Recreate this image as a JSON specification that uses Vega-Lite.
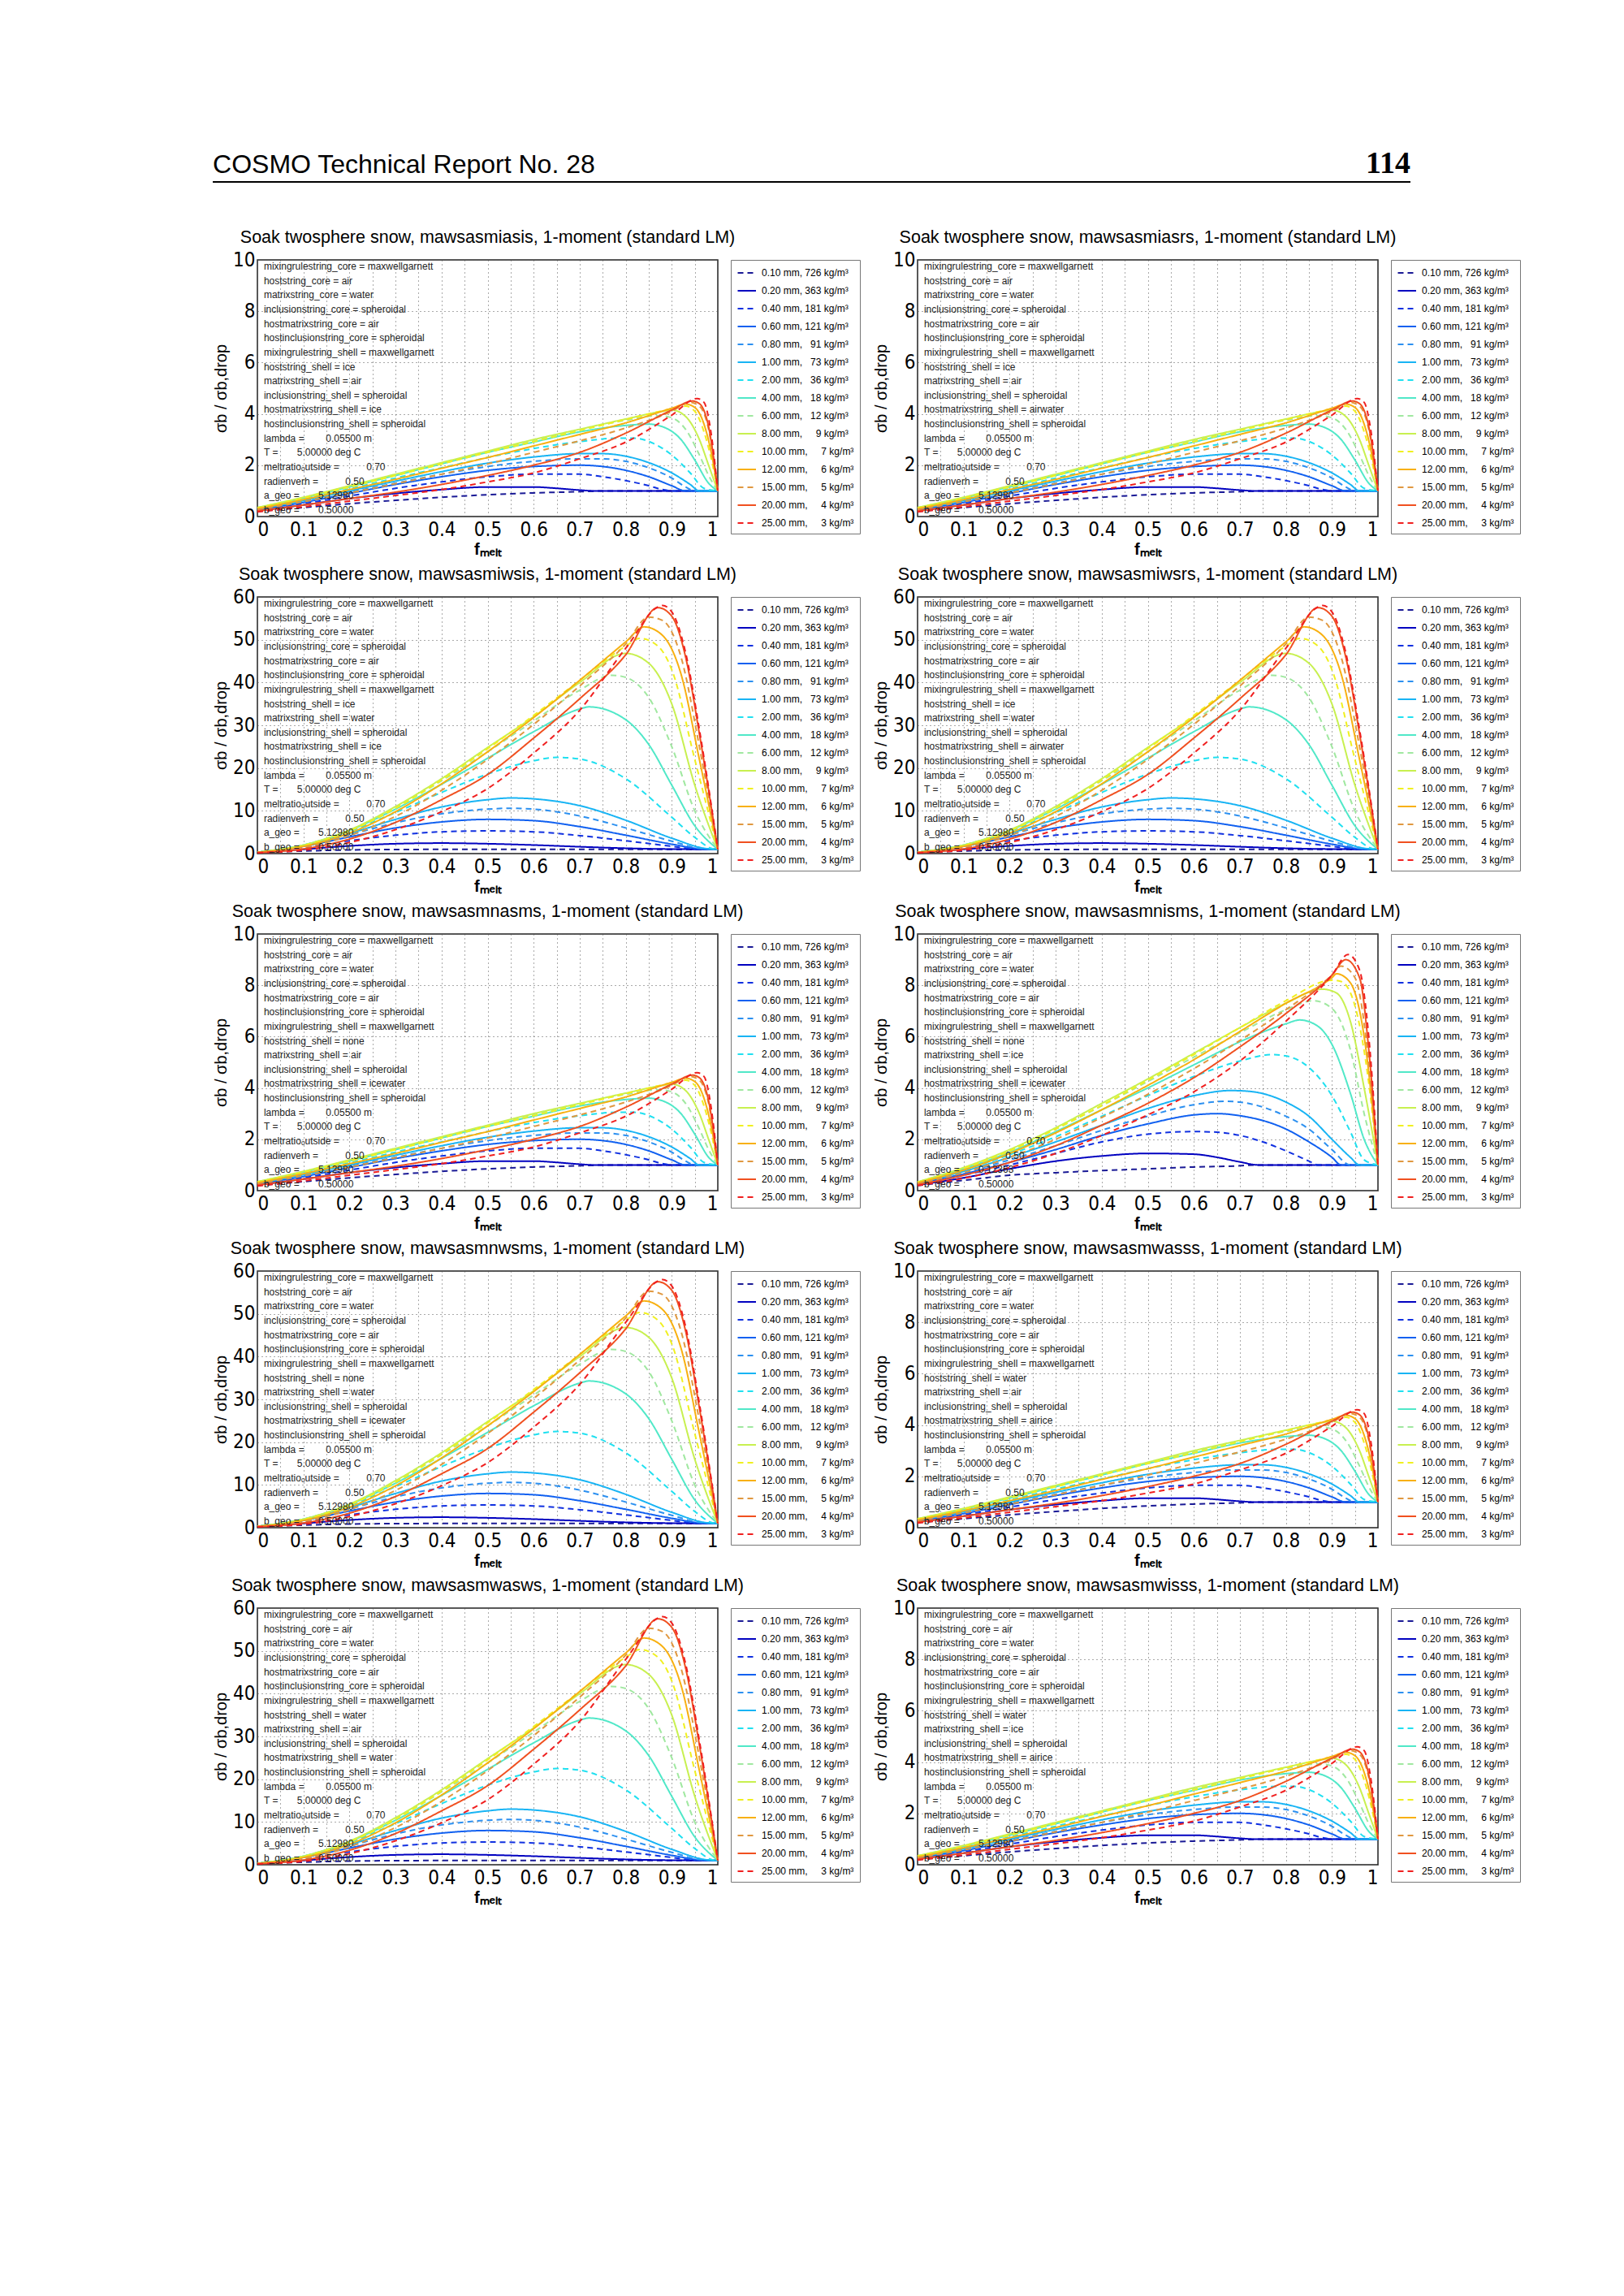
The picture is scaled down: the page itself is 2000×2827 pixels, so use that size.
{
  "$schema": "https://vega.github.io/schema/vega-lite/v6.json",
  "background": "white",
  "padding": {"left": 261, "top": 174, "right": 0, "bottom": 0},
  "autosize": {"type": "pad"},
  "config": {
    "font": "Liberation Sans",
    "view": {"stroke": "#222", "strokeWidth": 1.5},
    "title": {"fontSize": 21.5, "fontWeight": "normal", "font": "Liberation Sans", "color": "#000", "offset": 5, "anchor": "middle", "frame": "group"},
    "axis": {
      "grid": true, "gridDash": [1, 4], "gridColor": "#555", "gridOpacity": 1, "gridWidth": 1,
      "domain": false, "ticks": false,
      "labelFont": "Liberation Sans Narrow, DejaVu Sans Condensed, Liberation Sans",
      "labelFontSize": 24, "labelColor": "#000",
      "titleFont": "Liberation Sans", "titleFontSize": 20, "titleFontWeight": "normal", "titleColor": "#000"
    },
    "axisX": {"values": [0, 0.1, 0.2, 0.3, 0.4, 0.5, 0.6, 0.7, 0.8, 0.9, 1], "format": "~g", "labelPadding": 4, "titlePadding": 2, "titleFontWeight": "bold"},
    "axisY": {"labelPadding": 3, "titlePadding": 4},
    "line": {"interpolate": "monotone"},
    "legend": {
      "orient": "right", "offset": 12, "strokeColor": "#777", "fillColor": "white", "padding": 7,
      "symbolType": "M-1,0H2", "symbolSize": 225, "symbolStrokeWidth": 2.2,
      "labelFont": "Liberation Sans", "labelFontSize": 12, "labelColor": "#000", "labelOffset": 13, "rowPadding": 7
    },
    "range": {"category": ["#1a1a96", "#0000c0", "#1030e0", "#1060f0", "#2c90f0", "#18b4f4", "#20e0f0", "#50e8c8", "#a0e8a0", "#c8f050", "#f0f020", "#f8b010", "#e09840", "#f05020", "#f02020"]}
  },
  "datasets": {
    "series": [
      {"k": 0, "s": "0.10 mm, 726 kg/m³"}, {"k": 1, "s": "0.20 mm, 363 kg/m³"}, {"k": 2, "s": "0.40 mm, 181 kg/m³"},
      {"k": 3, "s": "0.60 mm, 121 kg/m³"}, {"k": 4, "s": "0.80 mm,\u00a0\u00a0 91 kg/m³"}, {"k": 5, "s": "1.00 mm,\u00a0\u00a0 73 kg/m³"},
      {"k": 6, "s": "2.00 mm,\u00a0\u00a0 36 kg/m³"}, {"k": 7, "s": "4.00 mm,\u00a0\u00a0 18 kg/m³"}, {"k": 8, "s": "6.00 mm,\u00a0\u00a0 12 kg/m³"},
      {"k": 9, "s": "8.00 mm,\u00a0\u00a0\u00a0\u00a0 9 kg/m³"}, {"k": 10, "s": "10.00 mm,\u00a0\u00a0\u00a0\u00a0 7 kg/m³"}, {"k": 11, "s": "12.00 mm,\u00a0\u00a0\u00a0\u00a0 6 kg/m³"},
      {"k": 12, "s": "15.00 mm,\u00a0\u00a0\u00a0\u00a0 5 kg/m³"}, {"k": 13, "s": "20.00 mm,\u00a0\u00a0\u00a0\u00a0 4 kg/m³"}, {"k": 14, "s": "25.00 mm,\u00a0\u00a0\u00a0\u00a0 3 kg/m³"}
    ],
    "shapeA": [
      {"k":0,"x":0,"y":0.2},{"k":0,"x":0.1,"y":0.35},{"k":0,"x":0.2,"y":0.5},{"k":0,"x":0.3,"y":0.63},{"k":0,"x":0.4,"y":0.75},{"k":0,"x":0.5,"y":0.85},{"k":0,"x":0.6,"y":0.92},{"k":0,"x":0.7,"y":0.97},{"k":0,"x":0.75,"y":1},{"k":0,"x":1,"y":1},
      {"k":1,"x":0,"y":0.22},{"k":1,"x":0.1,"y":0.45},{"k":1,"x":0.2,"y":0.7},{"k":1,"x":0.3,"y":0.9},{"k":1,"x":0.4,"y":1.05},{"k":1,"x":0.5,"y":1.15},{"k":1,"x":0.6,"y":1.15},{"k":1,"x":0.65,"y":1.1},{"k":1,"x":0.7,"y":1.03},{"k":1,"x":0.73,"y":1},{"k":1,"x":1,"y":1},
      {"k":2,"x":0,"y":0.24},{"k":2,"x":0.1,"y":0.5},{"k":2,"x":0.2,"y":0.8},{"k":2,"x":0.3,"y":1.1},{"k":2,"x":0.4,"y":1.35},{"k":2,"x":0.5,"y":1.55},{"k":2,"x":0.6,"y":1.65},{"k":2,"x":0.7,"y":1.65},{"k":2,"x":0.75,"y":1.55},{"k":2,"x":0.8,"y":1.4},{"k":2,"x":0.85,"y":1.2},{"k":2,"x":0.88,"y":1.05},{"k":2,"x":0.9,"y":1},{"k":2,"x":1,"y":1},
      {"k":3,"x":0,"y":0.26},{"k":3,"x":0.1,"y":0.55},{"k":3,"x":0.2,"y":0.9},{"k":3,"x":0.3,"y":1.25},{"k":3,"x":0.4,"y":1.55},{"k":3,"x":0.5,"y":1.8},{"k":3,"x":0.6,"y":1.95},{"k":3,"x":0.7,"y":2.0},{"k":3,"x":0.75,"y":1.95},{"k":3,"x":0.8,"y":1.8},{"k":3,"x":0.85,"y":1.55},{"k":3,"x":0.9,"y":1.2},{"k":3,"x":0.93,"y":1},{"k":3,"x":1,"y":1},
      {"k":4,"x":0,"y":0.27},{"k":4,"x":0.1,"y":0.6},{"k":4,"x":0.2,"y":0.95},{"k":4,"x":0.3,"y":1.3},{"k":4,"x":0.4,"y":1.65},{"k":4,"x":0.5,"y":1.95},{"k":4,"x":0.6,"y":2.15},{"k":4,"x":0.7,"y":2.25},{"k":4,"x":0.75,"y":2.25},{"k":4,"x":0.8,"y":2.15},{"k":4,"x":0.85,"y":1.9},{"k":4,"x":0.9,"y":1.5},{"k":4,"x":0.93,"y":1.15},{"k":4,"x":0.95,"y":1},{"k":4,"x":1,"y":1},
      {"k":5,"x":0,"y":0.28},{"k":5,"x":0.1,"y":0.62},{"k":5,"x":0.2,"y":1.0},{"k":5,"x":0.3,"y":1.38},{"k":5,"x":0.4,"y":1.75},{"k":5,"x":0.5,"y":2.08},{"k":5,"x":0.6,"y":2.32},{"k":5,"x":0.7,"y":2.45},{"k":5,"x":0.75,"y":2.45},{"k":5,"x":0.8,"y":2.35},{"k":5,"x":0.85,"y":2.1},{"k":5,"x":0.9,"y":1.7},{"k":5,"x":0.94,"y":1.25},{"k":5,"x":0.96,"y":1},{"k":5,"x":1,"y":1},
      {"k":6,"x":0,"y":0.3},{"k":6,"x":0.1,"y":0.68},{"k":6,"x":0.2,"y":1.08},{"k":6,"x":0.3,"y":1.5},{"k":6,"x":0.4,"y":1.9},{"k":6,"x":0.5,"y":2.3},{"k":6,"x":0.6,"y":2.65},{"k":6,"x":0.7,"y":2.92},{"k":6,"x":0.78,"y":3.05},{"k":6,"x":0.82,"y":3.05},{"k":6,"x":0.86,"y":2.85},{"k":6,"x":0.9,"y":2.4},{"k":6,"x":0.94,"y":1.7},{"k":6,"x":0.97,"y":1.1},{"k":6,"x":1,"y":1},
      {"k":7,"x":0,"y":0.32},{"k":7,"x":0.1,"y":0.72},{"k":7,"x":0.2,"y":1.15},{"k":7,"x":0.3,"y":1.6},{"k":7,"x":0.4,"y":2.05},{"k":7,"x":0.5,"y":2.5},{"k":7,"x":0.6,"y":2.9},{"k":7,"x":0.7,"y":3.3},{"k":7,"x":0.8,"y":3.55},{"k":7,"x":0.85,"y":3.6},{"k":7,"x":0.88,"y":3.5},{"k":7,"x":0.92,"y":3.0},{"k":7,"x":0.95,"y":2.2},{"k":7,"x":0.98,"y":1.3},{"k":7,"x":1,"y":1},
      {"k":8,"x":0,"y":0.34},{"k":8,"x":0.1,"y":0.74},{"k":8,"x":0.2,"y":1.18},{"k":8,"x":0.3,"y":1.62},{"k":8,"x":0.4,"y":2.08},{"k":8,"x":0.5,"y":2.53},{"k":8,"x":0.6,"y":2.95},{"k":8,"x":0.7,"y":3.38},{"k":8,"x":0.8,"y":3.75},{"k":8,"x":0.87,"y":3.93},{"k":8,"x":0.9,"y":3.85},{"k":8,"x":0.93,"y":3.4},{"k":8,"x":0.96,"y":2.4},{"k":8,"x":0.98,"y":1.6},{"k":8,"x":1,"y":1},
      {"k":9,"x":0,"y":0.35},{"k":9,"x":0.1,"y":0.75},{"k":9,"x":0.2,"y":1.2},{"k":9,"x":0.3,"y":1.65},{"k":9,"x":0.4,"y":2.1},{"k":9,"x":0.5,"y":2.55},{"k":9,"x":0.6,"y":3.0},{"k":9,"x":0.7,"y":3.4},{"k":9,"x":0.8,"y":3.8},{"k":9,"x":0.88,"y":4.1},{"k":9,"x":0.9,"y":4.15},{"k":9,"x":0.93,"y":3.9},{"k":9,"x":0.96,"y":3.0},{"k":9,"x":0.98,"y":2.0},{"k":9,"x":1,"y":1},
      {"k":10,"x":0,"y":0.33},{"k":10,"x":0.1,"y":0.72},{"k":10,"x":0.2,"y":1.15},{"k":10,"x":0.3,"y":1.6},{"k":10,"x":0.4,"y":2.05},{"k":10,"x":0.5,"y":2.5},{"k":10,"x":0.6,"y":2.92},{"k":10,"x":0.7,"y":3.35},{"k":10,"x":0.8,"y":3.78},{"k":10,"x":0.9,"y":4.2},{"k":10,"x":0.93,"y":4.3},{"k":10,"x":0.95,"y":4.1},{"k":10,"x":0.97,"y":3.3},{"k":10,"x":0.99,"y":1.9},{"k":10,"x":1,"y":1},
      {"k":11,"x":0,"y":0.3},{"k":11,"x":0.1,"y":0.66},{"k":11,"x":0.2,"y":1.05},{"k":11,"x":0.3,"y":1.45},{"k":11,"x":0.4,"y":1.88},{"k":11,"x":0.5,"y":2.3},{"k":11,"x":0.6,"y":2.75},{"k":11,"x":0.7,"y":3.2},{"k":11,"x":0.8,"y":3.65},{"k":11,"x":0.9,"y":4.22},{"k":11,"x":0.93,"y":4.38},{"k":11,"x":0.95,"y":4.25},{"k":11,"x":0.97,"y":3.6},{"k":11,"x":0.99,"y":2.1},{"k":11,"x":1,"y":1},
      {"k":12,"x":0,"y":0.27},{"k":12,"x":0.1,"y":0.58},{"k":12,"x":0.2,"y":0.92},{"k":12,"x":0.3,"y":1.28},{"k":12,"x":0.4,"y":1.65},{"k":12,"x":0.5,"y":2.05},{"k":12,"x":0.6,"y":2.5},{"k":12,"x":0.7,"y":2.95},{"k":12,"x":0.8,"y":3.45},{"k":12,"x":0.9,"y":4.1},{"k":12,"x":0.94,"y":4.45},{"k":12,"x":0.96,"y":4.3},{"k":12,"x":0.98,"y":3.4},{"k":12,"x":1,"y":1},
      {"k":13,"x":0,"y":0.22},{"k":13,"x":0.1,"y":0.45},{"k":13,"x":0.2,"y":0.7},{"k":13,"x":0.3,"y":0.95},{"k":13,"x":0.4,"y":1.25},{"k":13,"x":0.5,"y":1.6},{"k":13,"x":0.6,"y":2.0},{"k":13,"x":0.7,"y":2.5},{"k":13,"x":0.8,"y":3.25},{"k":13,"x":0.9,"y":4.15},{"k":13,"x":0.945,"y":4.5},{"k":13,"x":0.96,"y":4.4},{"k":13,"x":0.98,"y":3.5},{"k":13,"x":1,"y":1},
      {"k":14,"x":0,"y":0.18},{"k":14,"x":0.1,"y":0.38},{"k":14,"x":0.2,"y":0.6},{"k":14,"x":0.3,"y":0.82},{"k":14,"x":0.4,"y":1.05},{"k":14,"x":0.5,"y":1.35},{"k":14,"x":0.6,"y":1.7},{"k":14,"x":0.7,"y":2.25},{"k":14,"x":0.8,"y":2.9},{"k":14,"x":0.9,"y":3.95},{"k":14,"x":0.955,"y":4.6},{"k":14,"x":0.97,"y":4.45},{"k":14,"x":0.985,"y":3.3},{"k":14,"x":1,"y":1}
    ],
    "shapeB": [
      {"k":0,"x":0,"y":0.2},{"k":0,"x":0.1,"y":0.6},{"k":0,"x":0.2,"y":0.85},{"k":0,"x":0.3,"y":0.95},{"k":0,"x":0.5,"y":1},{"k":0,"x":1,"y":1},
      {"k":1,"x":0,"y":0.25},{"k":1,"x":0.1,"y":1.0},{"k":1,"x":0.2,"y":1.8},{"k":1,"x":0.3,"y":2.3},{"k":1,"x":0.4,"y":2.45},{"k":1,"x":0.5,"y":2.3},{"k":1,"x":0.6,"y":2.0},{"k":1,"x":0.7,"y":1.6},{"k":1,"x":0.8,"y":1.25},{"k":1,"x":0.9,"y":1.05},{"k":1,"x":1,"y":1},
      {"k":2,"x":0,"y":0.3},{"k":2,"x":0.1,"y":1.4},{"k":2,"x":0.2,"y":3.0},{"k":2,"x":0.3,"y":4.3},{"k":2,"x":0.4,"y":5.1},{"k":2,"x":0.5,"y":5.3},{"k":2,"x":0.6,"y":5.1},{"k":2,"x":0.7,"y":4.2},{"k":2,"x":0.8,"y":3.0},{"k":2,"x":0.9,"y":1.7},{"k":2,"x":0.95,"y":1.1},{"k":2,"x":1,"y":1},
      {"k":3,"x":0,"y":0.3},{"k":3,"x":0.1,"y":1.7},{"k":3,"x":0.2,"y":3.9},{"k":3,"x":0.3,"y":6.0},{"k":3,"x":0.4,"y":7.4},{"k":3,"x":0.5,"y":8.0},{"k":3,"x":0.6,"y":7.7},{"k":3,"x":0.7,"y":6.3},{"k":3,"x":0.8,"y":4.3},{"k":3,"x":0.9,"y":2.2},{"k":3,"x":0.97,"y":1.05},{"k":3,"x":1,"y":1},
      {"k":4,"x":0,"y":0.3},{"k":4,"x":0.1,"y":1.8},{"k":4,"x":0.2,"y":4.4},{"k":4,"x":0.3,"y":7.2},{"k":4,"x":0.4,"y":9.3},{"k":4,"x":0.5,"y":10.4},{"k":4,"x":0.55,"y":10.6},{"k":4,"x":0.6,"y":10.4},{"k":4,"x":0.7,"y":8.8},{"k":4,"x":0.8,"y":6.0},{"k":4,"x":0.9,"y":2.9},{"k":4,"x":0.97,"y":1.1},{"k":4,"x":1,"y":1},
      {"k":5,"x":0,"y":0.3},{"k":5,"x":0.1,"y":1.9},{"k":5,"x":0.2,"y":4.7},{"k":5,"x":0.3,"y":8.0},{"k":5,"x":0.4,"y":10.9},{"k":5,"x":0.5,"y":12.6},{"k":5,"x":0.55,"y":13.0},{"k":5,"x":0.6,"y":12.8},{"k":5,"x":0.7,"y":11.2},{"k":5,"x":0.8,"y":7.8},{"k":5,"x":0.9,"y":3.6},{"k":5,"x":0.98,"y":1.1},{"k":5,"x":1,"y":1},
      {"k":6,"x":0,"y":0.3},{"k":6,"x":0.1,"y":2.0},{"k":6,"x":0.2,"y":5.2},{"k":6,"x":0.3,"y":9.6},{"k":6,"x":0.4,"y":14.3},{"k":6,"x":0.5,"y":18.6},{"k":6,"x":0.6,"y":21.7},{"k":6,"x":0.65,"y":22.5},{"k":6,"x":0.7,"y":22.1},{"k":6,"x":0.8,"y":17.5},{"k":6,"x":0.9,"y":8.5},{"k":6,"x":0.95,"y":3.8},{"k":6,"x":0.99,"y":1.1},{"k":6,"x":1,"y":1},
      {"k":7,"x":0,"y":0.3},{"k":7,"x":0.1,"y":2.0},{"k":7,"x":0.2,"y":5.4},{"k":7,"x":0.3,"y":10.4},{"k":7,"x":0.4,"y":16.2},{"k":7,"x":0.5,"y":22.3},{"k":7,"x":0.6,"y":28.5},{"k":7,"x":0.7,"y":33.8},{"k":7,"x":0.72,"y":34.3},{"k":7,"x":0.8,"y":31.3},{"k":7,"x":0.85,"y":25.5},{"k":7,"x":0.9,"y":16},{"k":7,"x":0.95,"y":6.5},{"k":7,"x":1,"y":1},
      {"k":8,"x":0,"y":0.3},{"k":8,"x":0.1,"y":2.0},{"k":8,"x":0.2,"y":5.5},{"k":8,"x":0.3,"y":10.8},{"k":8,"x":0.4,"y":17},{"k":8,"x":0.5,"y":23.8},{"k":8,"x":0.6,"y":31},{"k":8,"x":0.7,"y":38.2},{"k":8,"x":0.77,"y":41.7},{"k":8,"x":0.8,"y":41.2},{"k":8,"x":0.85,"y":36.5},{"k":8,"x":0.9,"y":25},{"k":8,"x":0.95,"y":10},{"k":8,"x":1,"y":1},
      {"k":9,"x":0,"y":0.3},{"k":9,"x":0.1,"y":2.0},{"k":9,"x":0.2,"y":5.5},{"k":9,"x":0.3,"y":11},{"k":9,"x":0.4,"y":17.5},{"k":9,"x":0.5,"y":24.8},{"k":9,"x":0.6,"y":32},{"k":9,"x":0.7,"y":40},{"k":9,"x":0.8,"y":46.8},{"k":9,"x":0.85,"y":44.5},{"k":9,"x":0.9,"y":35},{"k":9,"x":0.95,"y":16},{"k":9,"x":1,"y":1},
      {"k":10,"x":0,"y":0.3},{"k":10,"x":0.1,"y":1.9},{"k":10,"x":0.2,"y":5.3},{"k":10,"x":0.3,"y":10.6},{"k":10,"x":0.4,"y":17.2},{"k":10,"x":0.5,"y":24.5},{"k":10,"x":0.6,"y":32.3},{"k":10,"x":0.7,"y":40.5},{"k":10,"x":0.8,"y":48.5},{"k":10,"x":0.83,"y":50.3},{"k":10,"x":0.87,"y":48.5},{"k":10,"x":0.9,"y":43},{"k":10,"x":0.95,"y":22},{"k":10,"x":1,"y":1},
      {"k":11,"x":0,"y":0.28},{"k":11,"x":0.1,"y":1.7},{"k":11,"x":0.2,"y":4.8},{"k":11,"x":0.3,"y":9.8},{"k":11,"x":0.4,"y":16.3},{"k":11,"x":0.5,"y":23.8},{"k":11,"x":0.6,"y":31.8},{"k":11,"x":0.7,"y":40.5},{"k":11,"x":0.8,"y":49.5},{"k":11,"x":0.84,"y":53},{"k":11,"x":0.88,"y":51},{"k":11,"x":0.92,"y":42},{"k":11,"x":0.96,"y":22},{"k":11,"x":1,"y":1},
      {"k":12,"x":0,"y":0.25},{"k":12,"x":0.1,"y":1.4},{"k":12,"x":0.2,"y":4.2},{"k":12,"x":0.3,"y":8.7},{"k":12,"x":0.4,"y":14.8},{"k":12,"x":0.5,"y":22},{"k":12,"x":0.6,"y":30.2},{"k":12,"x":0.7,"y":39.2},{"k":12,"x":0.8,"y":49},{"k":12,"x":0.85,"y":55.3},{"k":12,"x":0.88,"y":54.5},{"k":12,"x":0.92,"y":46},{"k":12,"x":0.96,"y":25},{"k":12,"x":1,"y":1},
      {"k":13,"x":0,"y":0.22},{"k":13,"x":0.1,"y":1.1},{"k":13,"x":0.2,"y":3.4},{"k":13,"x":0.3,"y":7.3},{"k":13,"x":0.4,"y":12.6},{"k":13,"x":0.5,"y":18.5},{"k":13,"x":0.6,"y":27},{"k":13,"x":0.7,"y":36.2},{"k":13,"x":0.8,"y":46.5},{"k":13,"x":0.87,"y":57.5},{"k":13,"x":0.9,"y":55.5},{"k":13,"x":0.93,"y":46},{"k":13,"x":0.96,"y":28},{"k":13,"x":1,"y":1},
      {"k":14,"x":0,"y":0.2},{"k":14,"x":0.1,"y":0.8},{"k":14,"x":0.2,"y":2.6},{"k":14,"x":0.3,"y":5.6},{"k":14,"x":0.4,"y":9.8},{"k":14,"x":0.5,"y":15.2},{"k":14,"x":0.6,"y":23.5},{"k":14,"x":0.7,"y":33.5},{"k":14,"x":0.8,"y":48},{"k":14,"x":0.88,"y":58},{"k":14,"x":0.9,"y":56.5},{"k":14,"x":0.93,"y":47},{"k":14,"x":0.96,"y":29},{"k":14,"x":1,"y":1}
    ],
    "shapeC": [
      {"k":0,"x":0,"y":0.2},{"k":0,"x":0.1,"y":0.4},{"k":0,"x":0.2,"y":0.6},{"k":0,"x":0.3,"y":0.7},{"k":0,"x":0.4,"y":0.78},{"k":0,"x":0.5,"y":0.85},{"k":0,"x":0.6,"y":0.92},{"k":0,"x":0.7,"y":0.97},{"k":0,"x":0.73,"y":1},{"k":0,"x":1,"y":1},
      {"k":1,"x":0,"y":0.22},{"k":1,"x":0.1,"y":0.5},{"k":1,"x":0.2,"y":0.85},{"k":1,"x":0.3,"y":1.15},{"k":1,"x":0.4,"y":1.35},{"k":1,"x":0.5,"y":1.45},{"k":1,"x":0.6,"y":1.42},{"k":1,"x":0.65,"y":1.3},{"k":1,"x":0.7,"y":1.12},{"k":1,"x":0.74,"y":1},{"k":1,"x":1,"y":1},
      {"k":2,"x":0,"y":0.25},{"k":2,"x":0.1,"y":0.6},{"k":2,"x":0.2,"y":1.0},{"k":2,"x":0.3,"y":1.45},{"k":2,"x":0.4,"y":1.9},{"k":2,"x":0.5,"y":2.2},{"k":2,"x":0.6,"y":2.3},{"k":2,"x":0.65,"y":2.28},{"k":2,"x":0.7,"y":2.15},{"k":2,"x":0.75,"y":1.9},{"k":2,"x":0.8,"y":1.55},{"k":2,"x":0.85,"y":1.15},{"k":2,"x":0.87,"y":1},{"k":2,"x":1,"y":1},
      {"k":3,"x":0,"y":0.27},{"k":3,"x":0.1,"y":0.65},{"k":3,"x":0.2,"y":1.1},{"k":3,"x":0.3,"y":1.6},{"k":3,"x":0.4,"y":2.15},{"k":3,"x":0.5,"y":2.6},{"k":3,"x":0.6,"y":2.95},{"k":3,"x":0.65,"y":3.0},{"k":3,"x":0.7,"y":2.92},{"k":3,"x":0.8,"y":2.4},{"k":3,"x":0.85,"y":1.9},{"k":3,"x":0.9,"y":1.3},{"k":3,"x":0.92,"y":1},{"k":3,"x":1,"y":1},
      {"k":4,"x":0,"y":0.28},{"k":4,"x":0.1,"y":0.7},{"k":4,"x":0.2,"y":1.2},{"k":4,"x":0.3,"y":1.75},{"k":4,"x":0.4,"y":2.35},{"k":4,"x":0.5,"y":2.9},{"k":4,"x":0.6,"y":3.35},{"k":4,"x":0.67,"y":3.48},{"k":4,"x":0.7,"y":3.45},{"k":4,"x":0.8,"y":2.9},{"k":4,"x":0.85,"y":2.4},{"k":4,"x":0.9,"y":1.6},{"k":4,"x":0.94,"y":1},{"k":4,"x":1,"y":1},
      {"k":5,"x":0,"y":0.29},{"k":5,"x":0.1,"y":0.75},{"k":5,"x":0.2,"y":1.3},{"k":5,"x":0.3,"y":1.9},{"k":5,"x":0.4,"y":2.55},{"k":5,"x":0.5,"y":3.2},{"k":5,"x":0.6,"y":3.7},{"k":5,"x":0.68,"y":3.9},{"k":5,"x":0.72,"y":3.87},{"k":5,"x":0.8,"y":3.45},{"k":5,"x":0.85,"y":2.9},{"k":5,"x":0.9,"y":2.0},{"k":5,"x":0.94,"y":1.3},{"k":5,"x":0.96,"y":1},{"k":5,"x":1,"y":1},
      {"k":6,"x":0,"y":0.3},{"k":6,"x":0.1,"y":0.8},{"k":6,"x":0.2,"y":1.4},{"k":6,"x":0.3,"y":2.1},{"k":6,"x":0.4,"y":2.9},{"k":6,"x":0.5,"y":3.7},{"k":6,"x":0.6,"y":4.45},{"k":6,"x":0.7,"y":5.05},{"k":6,"x":0.77,"y":5.3},{"k":6,"x":0.8,"y":5.25},{"k":6,"x":0.85,"y":4.8},{"k":6,"x":0.9,"y":3.7},{"k":6,"x":0.94,"y":2.3},{"k":6,"x":0.97,"y":1.2},{"k":6,"x":1,"y":1},
      {"k":7,"x":0,"y":0.32},{"k":7,"x":0.1,"y":0.85},{"k":7,"x":0.2,"y":1.5},{"k":7,"x":0.3,"y":2.3},{"k":7,"x":0.4,"y":3.15},{"k":7,"x":0.5,"y":4.0},{"k":7,"x":0.6,"y":4.9},{"k":7,"x":0.7,"y":5.8},{"k":7,"x":0.8,"y":6.5},{"k":7,"x":0.83,"y":6.65},{"k":7,"x":0.87,"y":6.4},{"k":7,"x":0.9,"y":5.7},{"k":7,"x":0.94,"y":3.8},{"k":7,"x":0.97,"y":2.0},{"k":7,"x":1,"y":1},
      {"k":8,"x":0,"y":0.33},{"k":8,"x":0.1,"y":0.88},{"k":8,"x":0.2,"y":1.55},{"k":8,"x":0.3,"y":2.4},{"k":8,"x":0.4,"y":3.3},{"k":8,"x":0.5,"y":4.25},{"k":8,"x":0.6,"y":5.2},{"k":8,"x":0.7,"y":6.15},{"k":8,"x":0.8,"y":7.05},{"k":8,"x":0.86,"y":7.4},{"k":8,"x":0.9,"y":7.1},{"k":8,"x":0.94,"y":5.5},{"k":8,"x":0.97,"y":3.0},{"k":8,"x":1,"y":1},
      {"k":9,"x":0,"y":0.34},{"k":9,"x":0.1,"y":0.9},{"k":9,"x":0.2,"y":1.6},{"k":9,"x":0.3,"y":2.45},{"k":9,"x":0.4,"y":3.4},{"k":9,"x":0.5,"y":4.35},{"k":9,"x":0.6,"y":5.35},{"k":9,"x":0.7,"y":6.35},{"k":9,"x":0.8,"y":7.3},{"k":9,"x":0.88,"y":7.85},{"k":9,"x":0.91,"y":7.7},{"k":9,"x":0.94,"y":6.6},{"k":9,"x":0.97,"y":4.0},{"k":9,"x":1,"y":1},
      {"k":10,"x":0,"y":0.32},{"k":10,"x":0.1,"y":0.87},{"k":10,"x":0.2,"y":1.55},{"k":10,"x":0.3,"y":2.4},{"k":10,"x":0.4,"y":3.32},{"k":10,"x":0.5,"y":4.3},{"k":10,"x":0.6,"y":5.3},{"k":10,"x":0.7,"y":6.35},{"k":10,"x":0.8,"y":7.4},{"k":10,"x":0.9,"y":8.2},{"k":10,"x":0.92,"y":8.15},{"k":10,"x":0.95,"y":7.2},{"k":10,"x":0.98,"y":4.2},{"k":10,"x":1,"y":1},
      {"k":11,"x":0,"y":0.3},{"k":11,"x":0.1,"y":0.8},{"k":11,"x":0.2,"y":1.45},{"k":11,"x":0.3,"y":2.25},{"k":11,"x":0.4,"y":3.15},{"k":11,"x":0.5,"y":4.1},{"k":11,"x":0.6,"y":5.1},{"k":11,"x":0.7,"y":6.2},{"k":11,"x":0.8,"y":7.3},{"k":11,"x":0.9,"y":8.3},{"k":11,"x":0.91,"y":8.45},{"k":11,"x":0.94,"y":8.1},{"k":11,"x":0.97,"y":6.0},{"k":11,"x":1,"y":1},
      {"k":12,"x":0,"y":0.27},{"k":12,"x":0.1,"y":0.7},{"k":12,"x":0.2,"y":1.3},{"k":12,"x":0.3,"y":2.0},{"k":12,"x":0.4,"y":2.85},{"k":12,"x":0.5,"y":3.75},{"k":12,"x":0.6,"y":4.75},{"k":12,"x":0.7,"y":5.85},{"k":12,"x":0.8,"y":7.05},{"k":12,"x":0.9,"y":8.4},{"k":12,"x":0.92,"y":8.75},{"k":12,"x":0.95,"y":8.3},{"k":12,"x":0.98,"y":5.0},{"k":12,"x":1,"y":1},
      {"k":13,"x":0,"y":0.23},{"k":13,"x":0.1,"y":0.6},{"k":13,"x":0.2,"y":1.1},{"k":13,"x":0.3,"y":1.75},{"k":13,"x":0.4,"y":2.55},{"k":13,"x":0.5,"y":3.4},{"k":13,"x":0.6,"y":4.4},{"k":13,"x":0.7,"y":5.6},{"k":13,"x":0.8,"y":6.9},{"k":13,"x":0.9,"y":8.4},{"k":13,"x":0.93,"y":9.0},{"k":13,"x":0.96,"y":8.3},{"k":13,"x":0.98,"y":5.5},{"k":13,"x":1,"y":1},
      {"k":14,"x":0,"y":0.2},{"k":14,"x":0.1,"y":0.48},{"k":14,"x":0.2,"y":0.9},{"k":14,"x":0.3,"y":1.45},{"k":14,"x":0.4,"y":2.15},{"k":14,"x":0.5,"y":2.95},{"k":14,"x":0.6,"y":3.85},{"k":14,"x":0.7,"y":5.05},{"k":14,"x":0.8,"y":6.6},{"k":14,"x":0.9,"y":8.4},{"k":14,"x":0.935,"y":9.2},{"k":14,"x":0.96,"y":8.6},{"k":14,"x":0.98,"y":6.0},{"k":14,"x":1,"y":1}
    ],
    "notes": [
      {"p":0,"i":0,"t":"mixingrulestring_core = maxwellgarnett"},
      {"p":0,"i":1,"t":"hoststring_core = air"},
      {"p":0,"i":2,"t":"matrixstring_core = water"},
      {"p":0,"i":3,"t":"inclusionstring_core = spheroidal"},
      {"p":0,"i":4,"t":"hostmatrixstring_core = air"},
      {"p":0,"i":5,"t":"hostinclusionstring_core = spheroidal"},
      {"p":0,"i":6,"t":"mixingrulestring_shell = maxwellgarnett"},
      {"p":0,"i":9,"t":"inclusionstring_shell = spheroidal"},
      {"p":0,"i":11,"t":"hostinclusionstring_shell = spheroidal"},
      {"p":0,"i":12,"t":"lambda =\u00a0\u00a0\u00a0\u00a0\u00a0\u00a0\u00a0 0.05500 m"},
      {"p":0,"i":13,"t":"T =\u00a0\u00a0\u00a0\u00a0\u00a0\u00a0 5.00000 deg C"},
      {"p":0,"i":14,"t":"meltratioₒutside =\u00a0\u00a0\u00a0\u00a0\u00a0\u00a0\u00a0\u00a0\u00a0 0.70"},
      {"p":0,"i":15,"t":"radienverh =\u00a0\u00a0\u00a0\u00a0\u00a0\u00a0\u00a0\u00a0\u00a0 0.50"},
      {"p":0,"i":17,"t":"b_geo =\u00a0\u00a0\u00a0\u00a0\u00a0\u00a0 0.50000"},
      {"p":1,"i":7,"t":"hoststring_shell = ice"},{"p":1,"i":8,"t":"matrixstring_shell = air"},{"p":1,"i":10,"t":"hostmatrixstring_shell = ice"},{"p":1,"i":16,"t":"a_geo =\u00a0\u00a0\u00a0\u00a0\u00a0\u00a0 5.12980"},
      {"p":2,"i":7,"t":"hoststring_shell = ice"},{"p":2,"i":8,"t":"matrixstring_shell = air"},{"p":2,"i":10,"t":"hostmatrixstring_shell = airwater"},{"p":2,"i":16,"t":"a_geo =\u00a0\u00a0\u00a0\u00a0\u00a0\u00a0 5.12980"},
      {"p":3,"i":7,"t":"hoststring_shell = ice"},{"p":3,"i":8,"t":"matrixstring_shell = water"},{"p":3,"i":10,"t":"hostmatrixstring_shell = ice"},{"p":3,"i":16,"t":"a_geo =\u00a0\u00a0\u00a0\u00a0\u00a0\u00a0 5.12980"},
      {"p":4,"i":7,"t":"hoststring_shell = ice"},{"p":4,"i":8,"t":"matrixstring_shell = water"},{"p":4,"i":10,"t":"hostmatrixstring_shell = airwater"},{"p":4,"i":16,"t":"a_geo =\u00a0\u00a0\u00a0\u00a0\u00a0\u00a0 5.12980"},
      {"p":5,"i":7,"t":"hoststring_shell = none"},{"p":5,"i":8,"t":"matrixstring_shell = air"},{"p":5,"i":10,"t":"hostmatrixstring_shell = icewater"},{"p":5,"i":16,"t":"a_geo =\u00a0\u00a0\u00a0\u00a0\u00a0\u00a0 5.12980"},
      {"p":6,"i":7,"t":"hoststring_shell = none"},{"p":6,"i":8,"t":"matrixstring_shell = ice"},{"p":6,"i":10,"t":"hostmatrixstring_shell = icewater"},{"p":6,"i":16,"t":"a_geo =\u00a0\u00a0\u00a0\u00a0\u00a0\u00a0 0.12363"},
      {"p":7,"i":7,"t":"hoststring_shell = none"},{"p":7,"i":8,"t":"matrixstring_shell = water"},{"p":7,"i":10,"t":"hostmatrixstring_shell = icewater"},{"p":7,"i":16,"t":"a_geo =\u00a0\u00a0\u00a0\u00a0\u00a0\u00a0 5.12980"},
      {"p":8,"i":7,"t":"hoststring_shell = water"},{"p":8,"i":8,"t":"matrixstring_shell = air"},{"p":8,"i":10,"t":"hostmatrixstring_shell = airice"},{"p":8,"i":16,"t":"a_geo =\u00a0\u00a0\u00a0\u00a0\u00a0\u00a0 5.12980"},
      {"p":9,"i":7,"t":"hoststring_shell = water"},{"p":9,"i":8,"t":"matrixstring_shell = air"},{"p":9,"i":10,"t":"hostmatrixstring_shell = water"},{"p":9,"i":16,"t":"a_geo =\u00a0\u00a0\u00a0\u00a0\u00a0\u00a0 5.12980"},
      {"p":10,"i":7,"t":"hoststring_shell = water"},{"p":10,"i":8,"t":"matrixstring_shell = ice"},{"p":10,"i":10,"t":"hostmatrixstring_shell = airice"},{"p":10,"i":16,"t":"a_geo =\u00a0\u00a0\u00a0\u00a0\u00a0\u00a0 5.12980"}
    ]
  },
  "resolve": {"scale": {"color": "independent", "strokeDash": "independent"}},
  "spacing": 55,
  "vconcat": [
    {
      "width": 1420, "height": 50,
      "view": {"stroke": null},
      "data": {"values": [{"left": "COSMO Technical Report No. 28", "right": "114"}]},
      "layer": [
        {"mark": {"type": "text", "align": "left", "baseline": "alphabetic", "fontSize": 32, "font": "Liberation Sans", "color": "#000"},
         "encoding": {"x": {"datum": -0.0387, "type": "quantitative", "scale": {"domain": [0, 1]}, "axis": null}, "y": {"datum": 0.22, "type": "quantitative", "scale": {"domain": [0, 1]}, "axis": null}, "text": {"field": "left"}}},
        {"mark": {"type": "text", "align": "right", "baseline": "alphabetic", "fontSize": 38, "font": "Liberation Serif", "fontWeight": "bold", "color": "#000"},
         "encoding": {"x": {"datum": 1, "type": "quantitative"}, "y": {"datum": 0.22, "type": "quantitative"}, "text": {"field": "right"}}},
        {"mark": {"type": "rule", "strokeWidth": 2, "color": "#000"},
         "encoding": {"x": {"datum": -0.0387, "type": "quantitative"}, "x2": {"datum": 1}, "y": {"datum": 0, "type": "quantitative"}}}
      ]
    },
    {
      "columns": 2,
      "spacing": {"row": 8, "column": 13},
      "resolve": {"scale": {"x": "independent", "y": "independent", "color": "independent", "strokeDash": "independent"}},
      "concat": [
        {"title": "Soak twosphere snow, mawsasmiasis, 1-moment (standard LM)", "width": 567, "height": 316,
         "layer": [
          {"data": {"name": "shapeA"}, "transform": [{"lookup": "k", "from": {"data": {"name": "series"}, "key": "k", "fields": ["s"]}}],
           "mark": {"type": "line", "strokeWidth": 2},
           "encoding": {
            "x": {"field": "x", "type": "quantitative", "scale": {"domain": [0, 1]}, "title": "fₘₑₗₜ"},
            "y": {"field": "y", "type": "quantitative", "scale": {"domain": [0, 10]}, "axis": {"values": [0, 2, 4, 6, 8, 10]}, "title": "σb / σb,drop"},
            "color": {"field": "s", "type": "nominal", "sort": {"field": "k", "op": "min"}, "title": null},
            "strokeDash": {"field": "s", "type": "nominal", "sort": {"field": "k", "op": "min"}, "title": null, "scale": {"range": [[7,5],[1,0],[7,5],[1,0],[7,5],[1,0],[7,5],[1,0],[7,5],[1,0],[7,5],[1,0],[7,5],[1,0],[7,5]]}}}},
          {"data": {"name": "notes"}, "transform": [{"filter": "datum.p == 0 || datum.p == 1"}],
           "mark": {"type": "text", "align": "left", "baseline": "middle", "fontSize": 12, "color": "#222"},
           "encoding": {"x": {"datum": 0.014, "type": "quantitative"}, "y": {"field": "i", "type": "ordinal", "scale": {"type": "point", "padding": 0.45}, "axis": null}, "text": {"field": "t"}}}
         ],
         "resolve": {"scale": {"y": "independent"}}},
        {"title": "Soak twosphere snow, mawsasmiasrs, 1-moment (standard LM)", "width": 567, "height": 316,
         "layer": [
          {"data": {"name": "shapeA"}, "transform": [{"lookup": "k", "from": {"data": {"name": "series"}, "key": "k", "fields": ["s"]}}],
           "mark": {"type": "line", "strokeWidth": 2},
           "encoding": {
            "x": {"field": "x", "type": "quantitative", "scale": {"domain": [0, 1]}, "title": "fₘₑₗₜ"},
            "y": {"field": "y", "type": "quantitative", "scale": {"domain": [0, 10]}, "axis": {"values": [0, 2, 4, 6, 8, 10]}, "title": "σb / σb,drop"},
            "color": {"field": "s", "type": "nominal", "sort": {"field": "k", "op": "min"}, "title": null},
            "strokeDash": {"field": "s", "type": "nominal", "sort": {"field": "k", "op": "min"}, "title": null, "scale": {"range": [[7,5],[1,0],[7,5],[1,0],[7,5],[1,0],[7,5],[1,0],[7,5],[1,0],[7,5],[1,0],[7,5],[1,0],[7,5]]}}}},
          {"data": {"name": "notes"}, "transform": [{"filter": "datum.p == 0 || datum.p == 2"}],
           "mark": {"type": "text", "align": "left", "baseline": "middle", "fontSize": 12, "color": "#222"},
           "encoding": {"x": {"datum": 0.014, "type": "quantitative"}, "y": {"field": "i", "type": "ordinal", "scale": {"type": "point", "padding": 0.45}, "axis": null}, "text": {"field": "t"}}}
         ],
         "resolve": {"scale": {"y": "independent"}}},
        {"title": "Soak twosphere snow, mawsasmiwsis, 1-moment (standard LM)", "width": 567, "height": 316,
         "layer": [
          {"data": {"name": "shapeB"}, "transform": [{"lookup": "k", "from": {"data": {"name": "series"}, "key": "k", "fields": ["s"]}}],
           "mark": {"type": "line", "strokeWidth": 2},
           "encoding": {
            "x": {"field": "x", "type": "quantitative", "scale": {"domain": [0, 1]}, "title": "fₘₑₗₜ"},
            "y": {"field": "y", "type": "quantitative", "scale": {"domain": [0, 60]}, "axis": {"values": [0, 10, 20, 30, 40, 50, 60]}, "title": "σb / σb,drop"},
            "color": {"field": "s", "type": "nominal", "sort": {"field": "k", "op": "min"}, "title": null},
            "strokeDash": {"field": "s", "type": "nominal", "sort": {"field": "k", "op": "min"}, "title": null, "scale": {"range": [[7,5],[1,0],[7,5],[1,0],[7,5],[1,0],[7,5],[1,0],[7,5],[1,0],[7,5],[1,0],[7,5],[1,0],[7,5]]}}}},
          {"data": {"name": "notes"}, "transform": [{"filter": "datum.p == 0 || datum.p == 3"}],
           "mark": {"type": "text", "align": "left", "baseline": "middle", "fontSize": 12, "color": "#222"},
           "encoding": {"x": {"datum": 0.014, "type": "quantitative"}, "y": {"field": "i", "type": "ordinal", "scale": {"type": "point", "padding": 0.45}, "axis": null}, "text": {"field": "t"}}}
         ],
         "resolve": {"scale": {"y": "independent"}}},
        {"title": "Soak twosphere snow, mawsasmiwsrs, 1-moment (standard LM)", "width": 567, "height": 316,
         "layer": [
          {"data": {"name": "shapeB"}, "transform": [{"lookup": "k", "from": {"data": {"name": "series"}, "key": "k", "fields": ["s"]}}],
           "mark": {"type": "line", "strokeWidth": 2},
           "encoding": {
            "x": {"field": "x", "type": "quantitative", "scale": {"domain": [0, 1]}, "title": "fₘₑₗₜ"},
            "y": {"field": "y", "type": "quantitative", "scale": {"domain": [0, 60]}, "axis": {"values": [0, 10, 20, 30, 40, 50, 60]}, "title": "σb / σb,drop"},
            "color": {"field": "s", "type": "nominal", "sort": {"field": "k", "op": "min"}, "title": null},
            "strokeDash": {"field": "s", "type": "nominal", "sort": {"field": "k", "op": "min"}, "title": null, "scale": {"range": [[7,5],[1,0],[7,5],[1,0],[7,5],[1,0],[7,5],[1,0],[7,5],[1,0],[7,5],[1,0],[7,5],[1,0],[7,5]]}}}},
          {"data": {"name": "notes"}, "transform": [{"filter": "datum.p == 0 || datum.p == 4"}],
           "mark": {"type": "text", "align": "left", "baseline": "middle", "fontSize": 12, "color": "#222"},
           "encoding": {"x": {"datum": 0.014, "type": "quantitative"}, "y": {"field": "i", "type": "ordinal", "scale": {"type": "point", "padding": 0.45}, "axis": null}, "text": {"field": "t"}}}
         ],
         "resolve": {"scale": {"y": "independent"}}},
        {"title": "Soak twosphere snow, mawsasmnasms, 1-moment (standard LM)", "width": 567, "height": 316,
         "layer": [
          {"data": {"name": "shapeA"}, "transform": [{"lookup": "k", "from": {"data": {"name": "series"}, "key": "k", "fields": ["s"]}}],
           "mark": {"type": "line", "strokeWidth": 2},
           "encoding": {
            "x": {"field": "x", "type": "quantitative", "scale": {"domain": [0, 1]}, "title": "fₘₑₗₜ"},
            "y": {"field": "y", "type": "quantitative", "scale": {"domain": [0, 10]}, "axis": {"values": [0, 2, 4, 6, 8, 10]}, "title": "σb / σb,drop"},
            "color": {"field": "s", "type": "nominal", "sort": {"field": "k", "op": "min"}, "title": null},
            "strokeDash": {"field": "s", "type": "nominal", "sort": {"field": "k", "op": "min"}, "title": null, "scale": {"range": [[7,5],[1,0],[7,5],[1,0],[7,5],[1,0],[7,5],[1,0],[7,5],[1,0],[7,5],[1,0],[7,5],[1,0],[7,5]]}}}},
          {"data": {"name": "notes"}, "transform": [{"filter": "datum.p == 0 || datum.p == 5"}],
           "mark": {"type": "text", "align": "left", "baseline": "middle", "fontSize": 12, "color": "#222"},
           "encoding": {"x": {"datum": 0.014, "type": "quantitative"}, "y": {"field": "i", "type": "ordinal", "scale": {"type": "point", "padding": 0.45}, "axis": null}, "text": {"field": "t"}}}
         ],
         "resolve": {"scale": {"y": "independent"}}},
        {"title": "Soak twosphere snow, mawsasmnisms, 1-moment (standard LM)", "width": 567, "height": 316,
         "layer": [
          {"data": {"name": "shapeC"}, "transform": [{"lookup": "k", "from": {"data": {"name": "series"}, "key": "k", "fields": ["s"]}}],
           "mark": {"type": "line", "strokeWidth": 2},
           "encoding": {
            "x": {"field": "x", "type": "quantitative", "scale": {"domain": [0, 1]}, "title": "fₘₑₗₜ"},
            "y": {"field": "y", "type": "quantitative", "scale": {"domain": [0, 10]}, "axis": {"values": [0, 2, 4, 6, 8, 10]}, "title": "σb / σb,drop"},
            "color": {"field": "s", "type": "nominal", "sort": {"field": "k", "op": "min"}, "title": null},
            "strokeDash": {"field": "s", "type": "nominal", "sort": {"field": "k", "op": "min"}, "title": null, "scale": {"range": [[7,5],[1,0],[7,5],[1,0],[7,5],[1,0],[7,5],[1,0],[7,5],[1,0],[7,5],[1,0],[7,5],[1,0],[7,5]]}}}},
          {"data": {"name": "notes"}, "transform": [{"filter": "datum.p == 0 || datum.p == 6"}],
           "mark": {"type": "text", "align": "left", "baseline": "middle", "fontSize": 12, "color": "#222"},
           "encoding": {"x": {"datum": 0.014, "type": "quantitative"}, "y": {"field": "i", "type": "ordinal", "scale": {"type": "point", "padding": 0.45}, "axis": null}, "text": {"field": "t"}}}
         ],
         "resolve": {"scale": {"y": "independent"}}},
        {"title": "Soak twosphere snow, mawsasmnwsms, 1-moment (standard LM)", "width": 567, "height": 316,
         "layer": [
          {"data": {"name": "shapeB"}, "transform": [{"lookup": "k", "from": {"data": {"name": "series"}, "key": "k", "fields": ["s"]}}],
           "mark": {"type": "line", "strokeWidth": 2},
           "encoding": {
            "x": {"field": "x", "type": "quantitative", "scale": {"domain": [0, 1]}, "title": "fₘₑₗₜ"},
            "y": {"field": "y", "type": "quantitative", "scale": {"domain": [0, 60]}, "axis": {"values": [0, 10, 20, 30, 40, 50, 60]}, "title": "σb / σb,drop"},
            "color": {"field": "s", "type": "nominal", "sort": {"field": "k", "op": "min"}, "title": null},
            "strokeDash": {"field": "s", "type": "nominal", "sort": {"field": "k", "op": "min"}, "title": null, "scale": {"range": [[7,5],[1,0],[7,5],[1,0],[7,5],[1,0],[7,5],[1,0],[7,5],[1,0],[7,5],[1,0],[7,5],[1,0],[7,5]]}}}},
          {"data": {"name": "notes"}, "transform": [{"filter": "datum.p == 0 || datum.p == 7"}],
           "mark": {"type": "text", "align": "left", "baseline": "middle", "fontSize": 12, "color": "#222"},
           "encoding": {"x": {"datum": 0.014, "type": "quantitative"}, "y": {"field": "i", "type": "ordinal", "scale": {"type": "point", "padding": 0.45}, "axis": null}, "text": {"field": "t"}}}
         ],
         "resolve": {"scale": {"y": "independent"}}},
        {"title": "Soak twosphere snow, mawsasmwasss, 1-moment (standard LM)", "width": 567, "height": 316,
         "layer": [
          {"data": {"name": "shapeA"}, "transform": [{"lookup": "k", "from": {"data": {"name": "series"}, "key": "k", "fields": ["s"]}}],
           "mark": {"type": "line", "strokeWidth": 2},
           "encoding": {
            "x": {"field": "x", "type": "quantitative", "scale": {"domain": [0, 1]}, "title": "fₘₑₗₜ"},
            "y": {"field": "y", "type": "quantitative", "scale": {"domain": [0, 10]}, "axis": {"values": [0, 2, 4, 6, 8, 10]}, "title": "σb / σb,drop"},
            "color": {"field": "s", "type": "nominal", "sort": {"field": "k", "op": "min"}, "title": null},
            "strokeDash": {"field": "s", "type": "nominal", "sort": {"field": "k", "op": "min"}, "title": null, "scale": {"range": [[7,5],[1,0],[7,5],[1,0],[7,5],[1,0],[7,5],[1,0],[7,5],[1,0],[7,5],[1,0],[7,5],[1,0],[7,5]]}}}},
          {"data": {"name": "notes"}, "transform": [{"filter": "datum.p == 0 || datum.p == 8"}],
           "mark": {"type": "text", "align": "left", "baseline": "middle", "fontSize": 12, "color": "#222"},
           "encoding": {"x": {"datum": 0.014, "type": "quantitative"}, "y": {"field": "i", "type": "ordinal", "scale": {"type": "point", "padding": 0.45}, "axis": null}, "text": {"field": "t"}}}
         ],
         "resolve": {"scale": {"y": "independent"}}},
        {"title": "Soak twosphere snow, mawsasmwasws, 1-moment (standard LM)", "width": 567, "height": 316,
         "layer": [
          {"data": {"name": "shapeB"}, "transform": [{"lookup": "k", "from": {"data": {"name": "series"}, "key": "k", "fields": ["s"]}}],
           "mark": {"type": "line", "strokeWidth": 2},
           "encoding": {
            "x": {"field": "x", "type": "quantitative", "scale": {"domain": [0, 1]}, "title": "fₘₑₗₜ"},
            "y": {"field": "y", "type": "quantitative", "scale": {"domain": [0, 60]}, "axis": {"values": [0, 10, 20, 30, 40, 50, 60]}, "title": "σb / σb,drop"},
            "color": {"field": "s", "type": "nominal", "sort": {"field": "k", "op": "min"}, "title": null},
            "strokeDash": {"field": "s", "type": "nominal", "sort": {"field": "k", "op": "min"}, "title": null, "scale": {"range": [[7,5],[1,0],[7,5],[1,0],[7,5],[1,0],[7,5],[1,0],[7,5],[1,0],[7,5],[1,0],[7,5],[1,0],[7,5]]}}}},
          {"data": {"name": "notes"}, "transform": [{"filter": "datum.p == 0 || datum.p == 9"}],
           "mark": {"type": "text", "align": "left", "baseline": "middle", "fontSize": 12, "color": "#222"},
           "encoding": {"x": {"datum": 0.014, "type": "quantitative"}, "y": {"field": "i", "type": "ordinal", "scale": {"type": "point", "padding": 0.45}, "axis": null}, "text": {"field": "t"}}}
         ],
         "resolve": {"scale": {"y": "independent"}}},
        {"title": "Soak twosphere snow, mawsasmwisss, 1-moment (standard LM)", "width": 567, "height": 316,
         "layer": [
          {"data": {"name": "shapeA"}, "transform": [{"lookup": "k", "from": {"data": {"name": "series"}, "key": "k", "fields": ["s"]}}],
           "mark": {"type": "line", "strokeWidth": 2},
           "encoding": {
            "x": {"field": "x", "type": "quantitative", "scale": {"domain": [0, 1]}, "title": "fₘₑₗₜ"},
            "y": {"field": "y", "type": "quantitative", "scale": {"domain": [0, 10]}, "axis": {"values": [0, 2, 4, 6, 8, 10]}, "title": "σb / σb,drop"},
            "color": {"field": "s", "type": "nominal", "sort": {"field": "k", "op": "min"}, "title": null},
            "strokeDash": {"field": "s", "type": "nominal", "sort": {"field": "k", "op": "min"}, "title": null, "scale": {"range": [[7,5],[1,0],[7,5],[1,0],[7,5],[1,0],[7,5],[1,0],[7,5],[1,0],[7,5],[1,0],[7,5],[1,0],[7,5]]}}}},
          {"data": {"name": "notes"}, "transform": [{"filter": "datum.p == 0 || datum.p == 10"}],
           "mark": {"type": "text", "align": "left", "baseline": "middle", "fontSize": 12, "color": "#222"},
           "encoding": {"x": {"datum": 0.014, "type": "quantitative"}, "y": {"field": "i", "type": "ordinal", "scale": {"type": "point", "padding": 0.45}, "axis": null}, "text": {"field": "t"}}}
         ],
         "resolve": {"scale": {"y": "independent"}}}
      ]
    }
  ]
}
